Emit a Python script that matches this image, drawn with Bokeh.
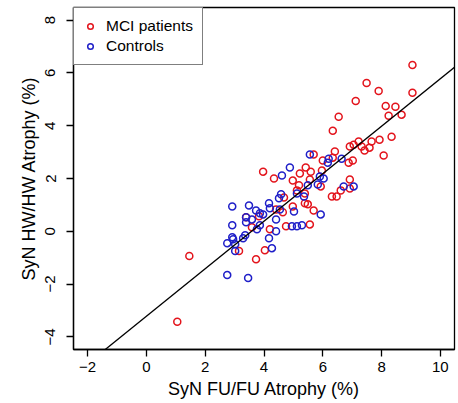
from bokeh.plotting import figure
from bokeh.models import Range1d, FixedTicker, Legend, LegendItem, Slope
from bokeh.embed import file_html
from bokeh.resources import INLINE

# MCI patients (x: SyN FU/FU atrophy %, y: SyN HW/HW atrophy %)
mci_x = [9.05, 7.49, 7.90, 9.05, 7.12, 8.14, 8.47, 8.24, 8.68, 6.54,
         6.34, 8.34, 7.93, 7.66, 7.22, 7.05, 6.92, 7.32, 7.59, 7.42,
         8.07, 6.41, 6.34, 5.69, 6.00, 7.02, 6.88, 3.97, 4.34, 5.22,
         5.42, 5.59, 5.97, 4.98, 5.56, 6.92, 5.19, 5.93, 6.61, 6.92,
         5.12, 6.31, 6.47, 4.68, 5.39, 5.39, 5.49, 4.98, 5.69, 4.41,
         4.64, 3.83, 3.39, 3.59, 4.20, 4.75, 5.56, 3.15, 4.03, 3.73,
         1.46, 1.05]
mci_y = [6.30, 5.62, 5.32, 5.25, 4.94, 4.75, 4.72, 4.38, 4.42, 4.34,
         3.81, 3.58, 3.47, 3.40, 3.40, 3.28, 3.21, 3.21, 3.17, 3.06,
         2.87, 3.02, 2.79, 2.91, 2.68, 2.68, 2.60, 2.26, 2.00, 2.19,
         2.42, 2.26, 2.30, 1.92, 1.96, 1.96, 1.74, 1.70, 1.55, 1.62,
         1.55, 1.32, 1.32, 1.28, 1.43, 1.06, 1.02, 0.94, 0.79, 0.83,
         0.72, 0.57, 0.53, 0.15, 0.08, 0.19, 0.26, -0.75, -0.72, -1.06,
         -0.94, -3.43]

# Controls
ctl_x = [5.56, 6.20, 6.17, 6.64, 4.88, 4.61, 5.90, 6.03, 5.49, 5.83,
         6.71, 7.05, 4.58, 5.12, 5.36, 4.51, 2.92, 3.49, 4.17, 5.02,
         5.93, 3.73, 3.86, 3.97, 4.20, 4.54, 4.41, 3.39, 3.59, 3.39,
         3.86, 3.76, 4.41, 2.92, 4.95, 5.12, 5.29, 2.92, 2.95, 3.36,
         3.29, 2.75, 3.02, 3.02, 4.17, 4.27, 2.75, 3.46]
ctl_y = [2.91, 2.75, 2.60, 2.75, 2.42, 2.11, 2.08, 2.00, 1.74, 1.77,
         1.70, 1.70, 1.40, 1.43, 1.32, 1.25, 0.94, 0.98, 1.06, 0.75,
         0.64, 0.79, 0.68, 0.64, 0.87, 0.83, 0.45, 0.34, 0.45, 0.53,
         0.23, 0.08, 0.00, 0.23, 0.19, 0.19, 0.23, -0.23, -0.30, -0.15,
         -0.26, -0.45, -0.49, -0.75, -0.26, -0.64, -1.66, -1.77]

# Fitted line
fit_slope = 0.90
fit_intercept = -3.22

x_ticks = [-2, 0, 2, 4, 6, 8, 10]
y_ticks = [-4, -2, 0, 2, 4, 6, 8]

RED = "#e3141c"
BLUE = "#1f1fc8"
FONT = "Liberation Sans"

p = figure(width=458, height=403, output_backend="svg", toolbar_location=None,
           x_range=Range1d(-2.48, 10.48), y_range=Range1d(-4.48, 8.48),
           min_border_left=73, min_border_right=4, min_border_top=7,
           min_border_bottom=54)
p.background_fill_color = "white"
p.border_fill_color = "white"
p.outline_line_color = "black"
p.outline_line_width = 1.3
p.xgrid.visible = False
p.ygrid.visible = False

p.add_layout(Slope(gradient=fit_slope, y_intercept=fit_intercept,
                   line_color="black", line_width=1.3))

r_mci = p.scatter(mci_x, mci_y, marker="circle", size=7, fill_color=None,
                  line_color=RED, line_width=1.5)
r_ctl = p.scatter(ctl_x, ctl_y, marker="circle", size=7, fill_color=None,
                  line_color=BLUE, line_width=1.5)

for ax, ticks in ((p.xaxis[0], x_ticks), (p.yaxis[0], y_ticks)):
    ax.ticker = FixedTicker(ticks=ticks)
    ax.major_tick_out = 7
    ax.major_tick_in = 0
    ax.minor_tick_out = 0
    ax.minor_tick_in = 0
    ax.axis_line_color = "black"
    ax.axis_line_width = 1.3
    ax.major_tick_line_color = "black"
    ax.major_tick_line_width = 1.3
    ax.major_label_text_font = FONT
    ax.major_label_text_font_size = "15px"
    ax.major_label_text_color = "black"
    ax.axis_label_text_font = FONT
    ax.axis_label_text_font_size = "18px"
    ax.axis_label_text_font_style = "normal"
    ax.axis_label_text_color = "black"

p.xaxis.axis_label = "SyN FU/FU Atrophy (%)"
p.yaxis.axis_label = "SyN HW/HW Atrophy (%)"
p.xaxis.major_label_standoff = 5
p.xaxis.axis_label_standoff = 4
p.yaxis.major_label_orientation = "vertical"
p.yaxis.major_label_standoff = 11
p.yaxis.axis_label_standoff = 4

legend = Legend(items=[LegendItem(label="MCI patients", renderers=[r_mci]),
                       LegendItem(label="Controls", renderers=[r_ctl])],
                location="top_left", margin=0, padding=9, spacing=2,
                glyph_width=14, glyph_height=18, label_height=18,
                label_standoff=9,
                label_text_font=FONT, label_text_font_size="15.5px",
                label_text_color="black",
                border_line_color="black", border_line_width=1.3,
                background_fill_alpha=1.0)
p.add_layout(legend)

open("out.html", "w").write(file_html(p, INLINE))
